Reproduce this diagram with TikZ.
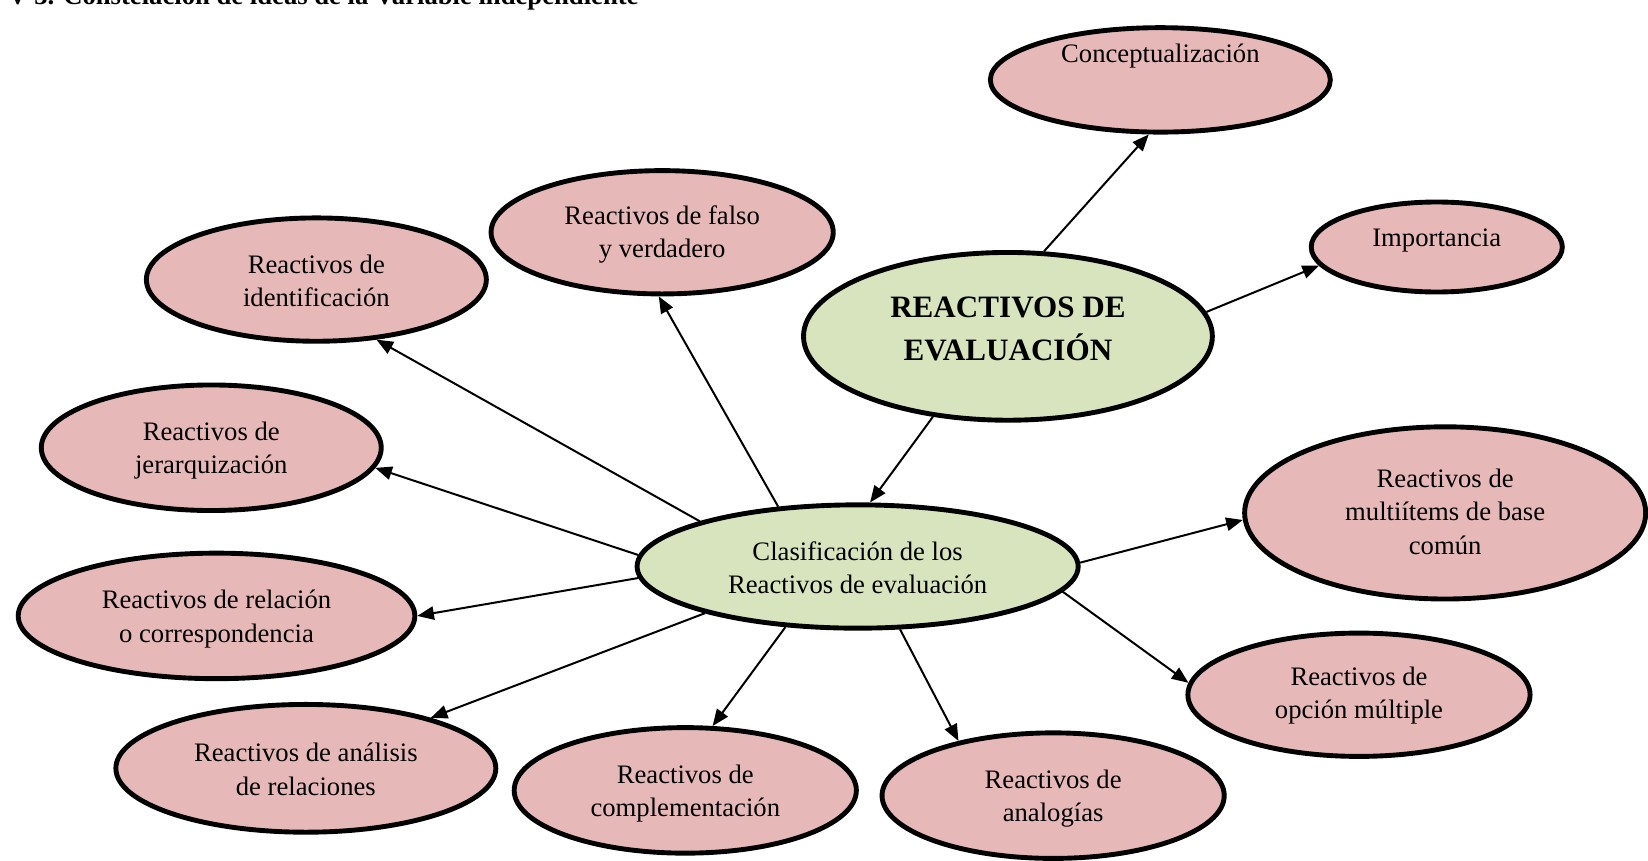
\documentclass[tikz,border=0pt]{standalone}
\usepackage{fontspec}
\setmainfont{Liberation Serif}
\usetikzlibrary{arrows.meta,shapes.geometric}
\definecolor{pinkfill}{HTML}{E6B9B8}
\definecolor{greenfill}{HTML}{D7E4BD}
\begin{document}
\begin{tikzpicture}[x=0.473pt,y=-0.473pt,
  ell/.style={ellipse,draw=black,line width=2.2pt,inner sep=0pt},
  pinkell/.style={ell,fill=pinkfill},
  greenell/.style={ell,fill=greenfill},
  txt/.style={align=center,font=\fontsize{12}{15}\selectfont,inner sep=0pt},
  bigtxt/.style={align=center,font=\fontsize{14}{19}\selectfont\bfseries,inner sep=0pt},
  arr/.style={line width=0.9pt,-{Triangle[length=7.5pt,width=6pt]}}]
\useasboundingbox (0,0) rectangle (1568,819);
\fill[white] (0,0) rectangle (1568,819);

\node[anchor=base east,font=\fontsize{12}{14}\selectfont\bfseries,inner sep=0pt] (title) at (608,4) {V-3. Constelación de ideas de la Variable independiente};

% ellipses
\node[pinkell,minimum width=153pt,minimum height=47pt] (concept) at (1104,76) {};
\node[pinkell,minimum width=113pt,minimum height=40.5pt] (impo) at (1367,235) {};
\node[greenell,minimum width=184pt,minimum height=75.5pt] (main) at (959,320) {};
\node[pinkell,minimum width=154pt,minimum height=55.5pt] (falso) at (630,221) {};
\node[pinkell,minimum width=153pt,minimum height=55.5pt] (ident) at (301,266) {};
\node[pinkell,minimum width=153pt,minimum height=56.5pt] (jerar) at (201,426) {};
\node[pinkell,minimum width=178.5pt,minimum height=56.5pt] (rel) at (206,586) {};
\node[pinkell,minimum width=171pt,minimum height=57.5pt] (anal) at (291,731) {};
\node[pinkell,minimum width=154pt,minimum height=56.5pt] (compl) at (652,752) {};
\node[pinkell,minimum width=154pt,minimum height=56.5pt] (analog) at (1002,757) {};
\node[pinkell,minimum width=154pt,minimum height=55.5pt] (opcion) at (1293,661) {};
\node[pinkell,minimum width=180.5pt,minimum height=77.5pt] (multi) at (1375,488) {};
\node[greenell,minimum width=198.5pt,minimum height=55.5pt] (clas) at (816,539) {};

% texts
\node[txt] (tconcept) at (1104,53) {Conceptualización};
\node[txt] (timpo) at (1367,229) {Importancia};
\node[bigtxt] (tmain) at (959,313) {REACTIVOS DE\\EVALUACIÓN};
\node[txt] (tfalso) at (630,223) {Reactivos de falso\\y verdadero};
\node[txt] (tident) at (301,267) {Reactivos de\\identificación};
\node[txt] (tjerar) at (201,429) {Reactivos de\\jerarquización};
\node[txt] (trel) at (206,589) {Reactivos de relación\\o correspondencia};
\node[txt] (tanal) at (291,732) {Reactivos de análisis\\de relaciones};
\node[txt] (tcompl) at (652,755) {Reactivos de\\complementación};
\node[txt] (tanalog) at (1002,760) {Reactivos de\\analogías};
\node[txt] (topcion) at (1293,662) {Reactivos de\\opción múltiple};
\node[txt] (tmulti) at (1375,487) {Reactivos de\\multiítems de base\\común};
\node[txt] (tclas) at (816,540) {Clasificación de los\\Reactivos de evaluación};

% arrows
\draw[arr] (main.67.5) -- (concept.258.5);
\draw[arr] (main.7.5) -- (impo.189.7);
\draw[arr] (main.227.9) -- (clas.79.8);
\draw[arr] (clas.143.9) -- (falso.267.5);
\draw[arr] (clas.164.1) -- (ident.315);
\draw[arr] (clas.177.1) -- (jerar.353.3);
\draw[arr] (clas.183) -- (rel.0);
\draw[arr] (clas.197.9) -- (anal.22.7);
\draw[arr] (clas.220.3) -- (compl.67.9);
\draw[arr] (clas.304.5) -- (analog.150.1);
\draw[arr] (clas.353.1) -- (opcion.176.2);
\draw[arr] (clas.1.6) -- (multi.182.6);
\end{tikzpicture}
\end{document}
